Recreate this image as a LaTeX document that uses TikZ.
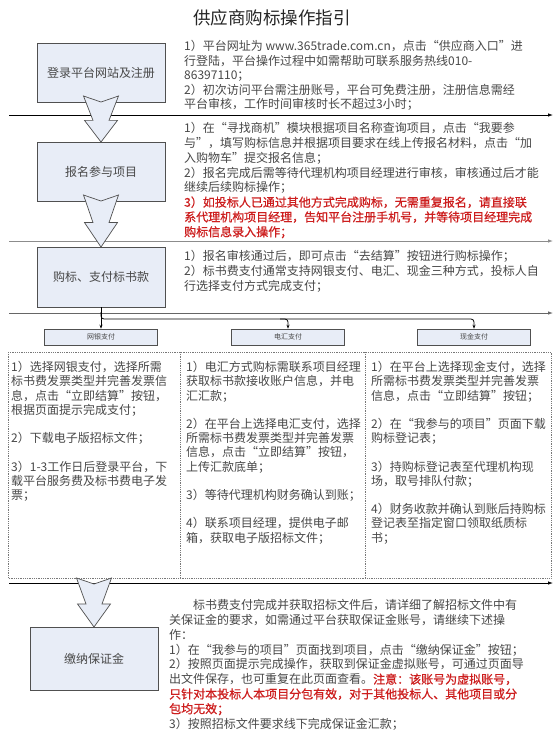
\documentclass[tikz,border=0pt]{standalone}
\usepackage{fontspec}
\setmainfont{Noto Sans CJK SC}
\newfontfamily\redfont[FakeBold=0.7]{Noto Sans CJK SC}
\usetikzlibrary{arrows.meta,calc}
\definecolor{boxfill}{RGB}{232,237,247}
\definecolor{boxdraw}{RGB}{80,80,80}
\definecolor{txt}{RGB}{72,72,72}
\definecolor{redtxt}{RGB}{205,30,30}
\definecolor{dotc}{RGB}{120,120,120}
\newcommand{\fl}{\rule{0pt}{11pt}}
\newcommand{\rd}[1]{{\color{redtxt}\redfont #1}}
\newcommand{\blockarrow}[3]{%
  \path[barrow] ({#1-17.5},#2) -- (#1,{#2+6}) -- ({#1+17.5},#2)
    -- ({#1+8},{#2+0.53*(#3-#2)}) -- ({#1+16.5},{#2+0.53*(#3-#2)})
    -- (#1,#3) -- ({#1-16.5},{#2+0.53*(#3-#2)}) -- ({#1-8},{#2+0.53*(#3-#2)}) -- cycle;}
\begin{document}
\begin{tikzpicture}[x=1pt,y=-1pt,
  stepbox/.style={draw=boxdraw, fill=boxfill, line width=0.8pt, minimum width=128pt,
    minimum height=60pt, font=\fontsize{12}{14}\selectfont, text=txt, inner sep=0pt},
  paybox/.style={draw=boxdraw, fill=boxfill, line width=0.6pt, minimum width=113pt,
    minimum height=16pt, font=\fontsize{7}{8}\selectfont, text=txt, inner sep=0pt},
  body/.style={anchor=north west, align=left, inner sep=0pt, text=txt},
  hline/.style={line width=0.8pt, -{Latex[length=5pt,width=3.5pt]}},
  conn/.style={line width=0.8pt, -{Stealth[length=4pt,width=3pt]}},
  barrow/.style={draw=boxdraw, fill=boxfill, line width=0.7pt, line join=miter},
  dotline/.style={draw=dotc, line width=0.8pt, dash pattern=on 0.9pt off 0.9pt},
]
\useasboundingbox[fill=white] (0,0) rectangle (558,732);

% title
\node[font=\fontsize{17.5}{20}\selectfont, text=black!85] (title) at (272,18) {供应商购标操作指引};

% horizontal separators
\coordinate (l1a) at (9,115);  \coordinate (l1b) at (553,115);
\coordinate (l2a) at (9,241);  \coordinate (l2b) at (553,241);
\coordinate (l3a) at (9,313);  \coordinate (l3b) at (553,313);
\coordinate (l4a) at (9,583);  \coordinate (l4b) at (553,583);
\draw[hline, draw=black] (l1a) -- (l1b);
\draw[hline, draw=black!45, color=black!45] (l2a) -- (l2b);
\draw[hline, draw=black!60, color=black!60] (l3a) -- (l3b);
\draw[hline, draw=black] (l4a) -- (l4b);

% dotted table
\draw[dotline] (8,352) rectangle (551,578);
\draw[dotline] (180,352) -- (180,578);
\draw[dotline] (365,352) -- (365,578);

% step boxes
\node[stepbox, minimum height=59pt] (b1) at (101,72.5) {登录平台网站及注册};
\node[stepbox, minimum height=59pt] (b2) at (101,171.5) {报名参与项目};
\node[stepbox, minimum height=60pt] (b3) at (101,277) {购标、支付标书款};
\node[stepbox, minimum height=63pt] (b4) at (94,658.5) {缴纳保证金};

% payment boxes
\node[paybox] (wy) at (101,337) {网银支付};
\node[paybox] (dh) at (288,337) {电汇支付};
\node[paybox] (xj) at (474,337) {现金支付};

% connectors
\coordinate (br) at (101,312);
\coordinate (hy) at (0,319);
\draw[conn] (b3.south) -- (wy.north);
\draw[conn, rounded corners=3pt] (br) |- (xj.north |- hy) -- (xj.north);
\draw[conn, rounded corners=3pt] ($(dh.north |- hy)+(-8,0)$) -| (dh.north);

% block arrows
\blockarrow{101}{96}{142}
\blockarrow{101}{195}{247}
\blockarrow{94}{578}{627}

% texts
\node[body, font=\fontsize{12}{14.5}\selectfont] (t1) at (184,39.5) {%
\fl 1）平台网址为 www.365trade.com.cn，点击“供应商入口”进\\%
行登陆，平台操作过程中如需帮助可联系服务热线010-\\%
86397110；\\%
2）初次访问平台需注册账号，平台可免费注册，注册信息需经\\%
平台审核，工作时间审核时长不超过3小时；};

\node[body, font=\fontsize{12}{14.8}\selectfont] (t2) at (184,121.5) {%
\fl 1）在“寻找商机”模块根据项目名称查询项目，点击“我要参\\%
与”，填写购标信息并根据项目要求在线上传报名材料，点击“加\\%
入购物车”提交报名信息；\\%
2）报名完成后需等待代理机构项目经理进行审核，审核通过后才能\\%
继续后续购标操作；\\%
\rd{3）如投标人已通过其他方式完成购标，无需重复报名，请直接联}\\%
\rd{系代理机构项目经理，告知平台注册手机号，并等待项目经理完成}\\%
\rd{购标信息录入操作；}};

\node[body, font=\fontsize{12}{15}\selectfont] (t3) at (184,249.5) {%
\fl 1）报名审核通过后，即可点击“去结算”按钮进行购标操作；\\%
2）标书费支付通常支持网银支付、电汇、现金三种方式，投标人自\\%
行选择支付方式完成支付；};

\node[body, font=\fontsize{12}{14.2}\selectfont] (c1) at (11,360.5) {%
\fl 1）选择网银支付，选择所需\\%
标书费发票类型并完善发票信\\%
息，点击“立即结算”按钮，\\%
根据页面提示完成支付；\\%
\mbox{}\\%
2）下载电子版招标文件；\\%
\mbox{}\\%
3）1-3工作日后登录平台，下\\%
载平台服务费及标书费电子发\\%
票；};

\node[body, font=\fontsize{12}{14.2}\selectfont] (c2) at (186,360.5) {%
\fl 1）电汇方式购标需联系项目经理\\%
获取标书款接收账户信息，并电\\%
汇汇款；\\%
\mbox{}\\%
2）在平台上选择电汇支付，选择\\%
所需标书费发票类型并完善发票\\%
信息，点击“立即结算”按钮，\\%
上传汇款底单；\\%
\mbox{}\\%
3）等待代理机构财务确认到账；\\%
\mbox{}\\%
4）联系项目经理，提供电子邮\\%
箱，获取电子版招标文件；};

\node[body, font=\fontsize{12}{14.2}\selectfont] (c3) at (371,360.5) {%
\fl 1）在平台上选择现金支付，选择\\%
所需标书费发票类型并完善发票\\%
信息，点击“立即结算”按钮；\\%
\mbox{}\\%
2）在“我参与的项目”页面下载\\%
购标登记表；\\%
\mbox{}\\%
3）持购标登记表至代理机构现\\%
场，取号排队付款；\\%
\mbox{}\\%
4）财务收款并确认到账后持购标\\%
登记表至指定窗口领取纸质标\\%
书；};

\node[body, font=\fontsize{12}{14.8}\selectfont] (t4) at (169,598.5) {%
\fl\hspace*{24pt}标书费支付完成并获取招标文件后，请详细了解招标文件中有\\%
关保证金的要求，如需通过平台获取保证金账号，请继续下述操\\%
作：\\%
1）在“我参与的项目”页面找到项目，点击“缴纳保证金”按钮；\\%
2）按照页面提示完成操作，获取到保证金虚拟账号，可通过页面导\\%
出文件保存，也可重复在此页面查看。\rd{注意：该账号为虚拟账号，}\\%
\rd{只针对本投标人本项目分包有效，对于其他投标人、其他项目或分}\\%
\rd{包均无效；}\\%
3）按照招标文件要求线下完成保证金汇款；};
\end{tikzpicture}
\end{document}
